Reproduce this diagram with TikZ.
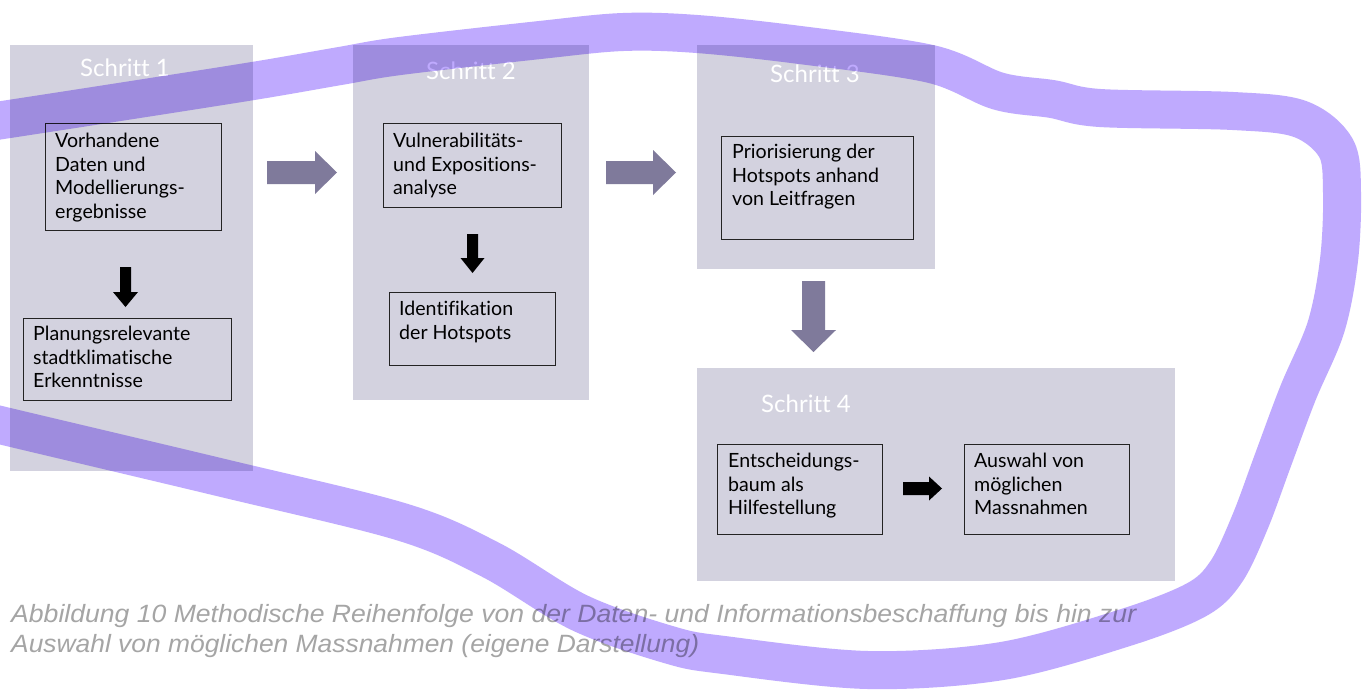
\documentclass[tikz,border=0pt]{standalone}
\usepackage{fontspec}
\setmainfont{Lato}[Ligatures=NoCommon]
\newfontfamily\capfont{Liberation Sans}
\usepackage{graphicx}
\usetikzlibrary{positioning}
\definecolor{panelgray}{RGB}{211,210,223}
\definecolor{arrowgray}{RGB}{127,122,155}
\definecolor{loopviolet}{RGB}{191,170,254}
\definecolor{capgray}{RGB}{165,165,165}
\definecolor{boxline}{RGB}{35,35,35}
\tikzset{
  panel/.style={fill=panelgray, draw=none, anchor=north west, inner sep=0pt},
  stepbox/.style={draw=boxline, line width=1.3pt, anchor=north west, inner sep=0pt},
  boxtext/.style={anchor=north west, inner sep=0pt, align=left,
    font=\fontsize{19.6}{23.5}\selectfont, text=black},
  steptitle/.style={anchor=base, inner sep=0pt, text=white,
    font=\fontsize{24}{28}\selectfont},
  rblock/.style n args={3}{to path={
    ([yshift=#1]\tikztostart) -- ([xshift=-#3,yshift=#1]\tikztotarget)
    -- ([xshift=-#3,yshift=#2]\tikztotarget) -- (\tikztotarget)
    -- ([xshift=-#3,yshift=-#2]\tikztotarget) -- ([xshift=-#3,yshift=-#1]\tikztotarget)
    -- ([yshift=-#1]\tikztostart) -- cycle}},
  dblock/.style n args={3}{to path={
    ([xshift=#1]\tikztostart) -- ([xshift=#1,yshift=#3]\tikztotarget)
    -- ([xshift=#2,yshift=#3]\tikztotarget) -- (\tikztotarget)
    -- ([xshift=-#2,yshift=#3]\tikztotarget) -- ([xshift=-#1,yshift=#3]\tikztotarget)
    -- ([xshift=-#1]\tikztostart) -- cycle}},
  bigarrow/.style={fill=arrowgray},
  smallarrow/.style={fill=black},
  loopstroke/.style={draw=loopviolet, line width=38pt, line cap=round, line join=round},
  caption/.style={anchor=base west, inner sep=0pt, text=capgray,
    font=\capfont\itshape\fontsize{25}{30}\selectfont},
}
\begin{document}
\begin{tikzpicture}[x=1pt, y=-1pt]
\useasboundingbox (0,0) rectangle (1370,689);
\fill[white] (0,0) rectangle (1370,689);

% panels
\node[panel, minimum width=243pt, minimum height=426pt] (p1) at (10,45) {};
\node[panel, minimum width=236pt, minimum height=355pt] (p2) at (353,45) {};
\node[panel, minimum width=238pt, minimum height=224pt] (p3) at (697,45) {};
\node[panel, minimum width=478pt, minimum height=213pt] (p4) at (697,368) {};

% titles
\node[steptitle] (t1) at (125,76) {Schritt 1};
\node[steptitle] (t2) at (471,79) {Schritt 2};
\node[steptitle] (t3) at (815,82) {Schritt 3};
\node[steptitle] (t4) at (806,412) {Schritt 4};

% boxes
\node[stepbox, minimum width=176pt, minimum height=107pt] (b1) at (45,123) {};
\node[stepbox, minimum width=208pt, minimum height=82pt] (b2) at (23,318) {};
\node[stepbox, minimum width=178pt, minimum height=84pt] (b3) at (383,123) {};
\node[stepbox, minimum width=166pt, minimum height=73pt] (b4) at (389,292) {};
\node[stepbox, minimum width=192pt, minimum height=103pt] (b5) at (721,136) {};
\node[stepbox, minimum width=165pt, minimum height=90pt] (b6) at (717,444) {};
\node[stepbox, minimum width=165pt, minimum height=90pt] (b7) at (964,444) {};

% box texts
\node[boxtext] (b1t) at (55,133) {Vorhandene\\Daten und\\Modellierungs-\\ergebnisse};
\node[boxtext] (b2t) at (33,326) {Planungsrelevante\\stadtklimatische\\Erkenntnisse};
\node[boxtext] (b3t) at (393,133) {Vulnerabilitäts-\\und Expositions-\\analyse};
\node[boxtext] (b4t) at (399,301) {Identifikation\\der Hotspots};
\node[boxtext] (b5t) at (732,144) {Priorisierung der\\Hotspots anhand\\von Leitfragen};
\node[boxtext] (b6t) at (728,453) {Entscheidungs-\\baum als\\Hilfestellung};
\node[boxtext] (b7t) at (974,453) {Auswahl von\\möglichen\\Massnahmen};

% arrow end points
\coordinate (a1s) at (267,172.5);
\coordinate (a1e) at (337,172.5);
\coordinate (a2s) at (606,172.5);
\coordinate (a2e) at (676,172.5);
\coordinate (a3s) at (813.5,281);
\coordinate (a3e) at (813.5,352);
\coordinate (s1s) at (125.5,267);
\coordinate (s1e) at (125.5,307);
\coordinate (s2s) at (472.5,234);
\coordinate (s2e) at (472.5,273);
\coordinate (s3s) at (903,488.5);
\coordinate (s3e) at (942,488.5);

\fill[bigarrow] (a1s) to[rblock={11.5pt}{21.5pt}{22pt}] (a1e);
\fill[bigarrow] (a2s) to[rblock={11.5pt}{22.5pt}{23pt}] (a2e);
\fill[bigarrow] (a3s) to[dblock={11.5pt}{22.5pt}{22pt}] (a3e);
\fill[smallarrow] (s1s) to[dblock={5.5pt}{12.5pt}{15pt}] (s1e);
\fill[smallarrow] (s2s) to[dblock={5.5pt}{12pt}{15pt}] (s2e);
\fill[smallarrow] (s3s) to[rblock={6.5pt}{12pt}{13pt}] (s3e);

% caption
\node[caption] (c1) at (11,622) {\resizebox{1125pt}{\height}{Abbildung 10 Methodische Reihenfolge von der Daten- und Informationsbeschaffung bis hin zur}};
\node[caption] (c2) at (11,652) {\resizebox{688pt}{\height}{Auswahl von möglichen Massnahmen (eigene Darstellung)}};

% hand-drawn loop
\begin{scope}[blend mode=multiply]
\draw[loopstroke] plot[smooth, tension=0.55] coordinates {
  (-30,125) (100,105) (253,81) (340,66) (400,56) (540,40) (623,32) (697,34)
  (800,45) (931,64) (998,91) (1052,99) (1100,108) (1233,111) (1300,119)
  (1336,148) (1342,193) (1339,260) (1326,327) (1298,393) (1273,460)
  (1250,522) (1226,572) (1196,600) (1124,628) (1002,661) (868,670) (724,655)
  (670,645) (580,613) (491,560) (402,522) (223,478) (0,425) (-30,417)};
\end{scope}
\end{tikzpicture}
\end{document}
